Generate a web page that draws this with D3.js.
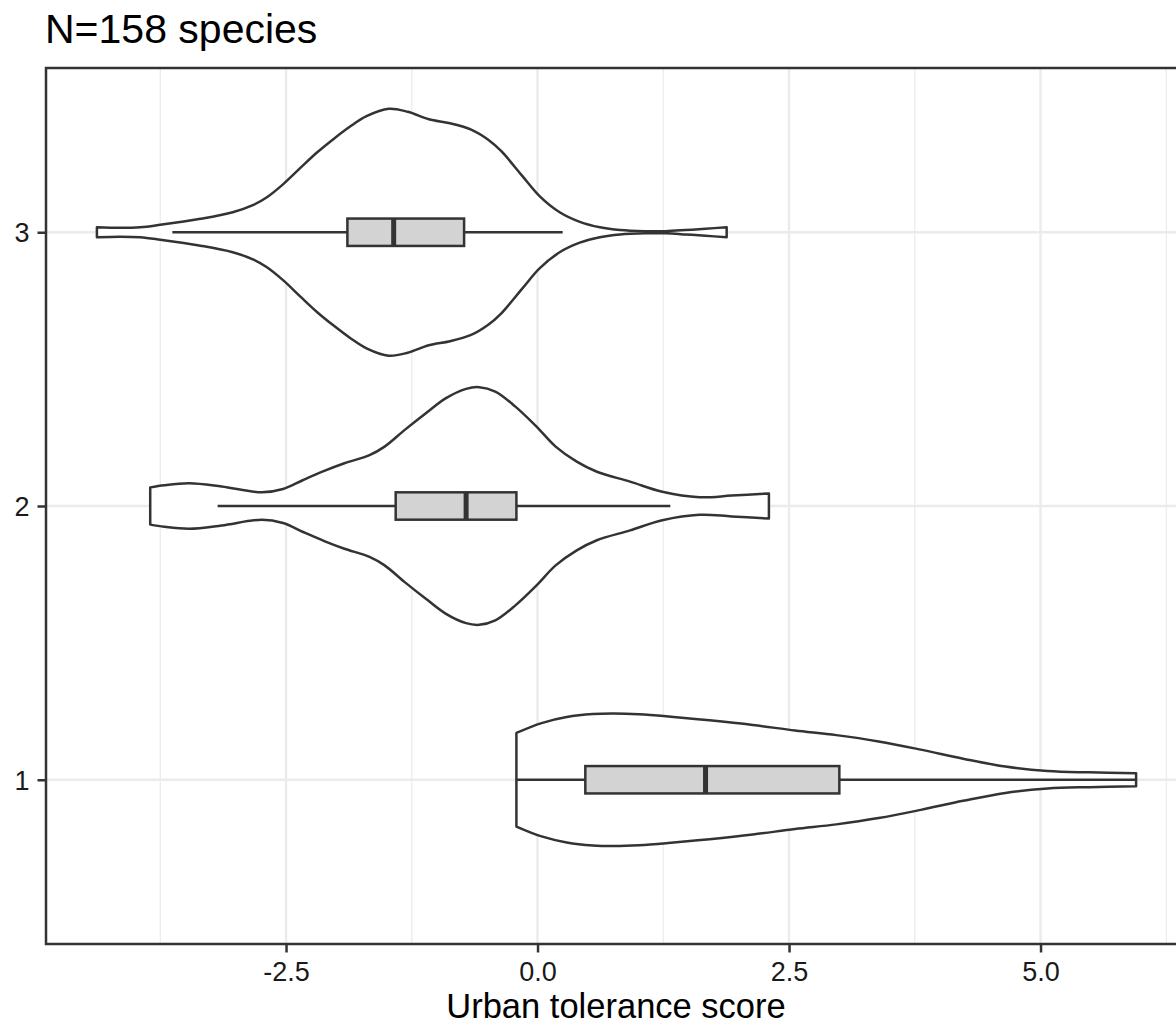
<!DOCTYPE html>
<html>
<head>
<meta charset="utf-8">
<script src="https://cdn.jsdelivr.net/npm/d3@7"></script>
<style>
  html, body { margin: 0; padding: 0; background: #fff; }
  svg { display: block; }
  text { font-family: "Liberation Sans", Arial, sans-serif; }
</style>
</head>
<body>
<svg id="chart" width="1176" height="1026"></svg>
<script>
// ---------------- data ----------------
const categories = [1, 2, 3];
const categoryLabels = ["1", "2", "3"];
const titleText = "N=158 species";
const xAxisTitle = "Urban tolerance score";

const xMajorTicks = [-2.5, 0, 2.5, 5.0];
const xTickLabels = ["-2.5", "0.0", "2.5", "5.0"];
const xMinorTicks = [-3.75, -1.25, 1.25, 3.75, 6.25];
const xLimits = [-4.886, 6.446];
const yLimits = [0.4, 3.6];

// violin outlines: x positions (score) and half-widths (category units)
const group1X = [-0.21, 0.04, 0.29, 0.55, 0.76, 1.01, 1.30, 1.71, 2.14, 2.56, 2.97, 3.39, 3.81, 4.23, 4.65, 5.07, 5.48, 5.95];
const group1W = [0.171, 0.207, 0.229, 0.240, 0.242, 0.239, 0.231, 0.217, 0.200, 0.180, 0.163, 0.140, 0.110, 0.077, 0.048, 0.032, 0.027, 0.024];

const group2X = [-3.85, -3.71, -3.46, -3.14, -2.74, -2.53, -2.33, -2.12, -1.92, -1.67, -1.52, -1.32, -1.11, -0.91, -0.71, -0.58, -0.42, -0.22, -0.01, 0.18, 0.39, 0.59, 0.92, 1.24, 1.61, 1.93, 2.30];
const group2W = [0.068, 0.076, 0.083, 0.071, 0.050, 0.062, 0.095, 0.128, 0.156, 0.186, 0.217, 0.278, 0.339, 0.394, 0.428, 0.434, 0.418, 0.363, 0.290, 0.217, 0.162, 0.125, 0.089, 0.052, 0.032, 0.038, 0.046];

const group3X = [-4.38, -4.15, -3.95, -3.75, -3.35, -3.03, -2.83, -2.69, -2.53, -2.36, -2.19, -2.03, -1.86, -1.70, -1.48, -1.29, -1.08, -0.87, -0.66, -0.49, -0.36, -0.15, 0.02, 0.22, 0.42, 0.62, 0.82, 1.07, 1.27, 1.47, 1.67, 1.88];
const group3W = [0.018, 0.016, 0.018, 0.027, 0.049, 0.073, 0.099, 0.128, 0.175, 0.234, 0.292, 0.340, 0.387, 0.424, 0.451, 0.440, 0.413, 0.398, 0.375, 0.338, 0.296, 0.205, 0.132, 0.073, 0.038, 0.018, 0.008, 0.004, 0.004, 0.008, 0.013, 0.018];

// boxplot statistics per category: lower whisker, Q1, median, Q3, upper whisker
const whiskerLow  = [-0.21, -3.18, -3.63];
const q1Values    = [0.475, -1.41, -1.89];
const medians     = [1.67, -0.71, -1.43];
const q3Values    = [3.00, -0.21, -0.73];
const whiskerHigh = [5.95, 1.32, 0.25];
const boxWidth = 0.1;

// ---------------- layout ----------------
const panel = { left: 46, top: 68, right: 1186, bottom: 944 };
const svg = d3.select("#chart");

const x = d3.scaleLinear().domain(xLimits).range([panel.left, panel.right]);
const y = d3.scaleLinear().domain(yLimits).range([panel.bottom, panel.top]);

const gridCol = "#EBEBEB";
const inkCol = "#333333";
const lw = 2.5;

svg.append("rect").attr("width", 1176).attr("height", 1026).attr("fill", "#fff");

svg.append("defs").append("clipPath").attr("id", "clip")
  .append("rect")
  .attr("x", panel.left).attr("y", panel.top)
  .attr("width", panel.right - panel.left).attr("height", panel.bottom - panel.top);

const plot = svg.append("g").attr("clip-path", "url(#clip)");

// minor grid
plot.selectAll("line.minor").data(xMinorTicks).enter().append("line")
  .attr("x1", d => x(d)).attr("x2", d => x(d))
  .attr("y1", panel.top).attr("y2", panel.bottom)
  .attr("stroke", gridCol).attr("stroke-width", 1.2);

// major grid
plot.selectAll("line.majx").data(xMajorTicks).enter().append("line")
  .attr("x1", d => x(d)).attr("x2", d => x(d))
  .attr("y1", panel.top).attr("y2", panel.bottom)
  .attr("stroke", gridCol).attr("stroke-width", 2.4);
plot.selectAll("line.majy").data(categories).enter().append("line")
  .attr("x1", panel.left).attr("x2", panel.right)
  .attr("y1", d => y(d)).attr("y2", d => y(d))
  .attr("stroke", gridCol).attr("stroke-width", 2.4);

// violins
const groups = [
  { cat: 1, xs: group1X, ws: group1W },
  { cat: 2, xs: group2X, ws: group2W },
  { cat: 3, xs: group3X, ws: group3W }
];

groups.forEach(g => {
  const pts = g.xs.map((v, i) => ({ v: v, w: g.ws[i] }));
  const area = d3.area()
    .x(d => x(d.v))
    .y0(d => y(g.cat - d.w))
    .y1(d => y(g.cat + d.w))
    .curve(d3.curveCatmullRom.alpha(0.5));
  plot.append("path")
    .attr("d", area(pts))
    .attr("fill", "#ffffff")
    .attr("stroke", inkCol)
    .attr("stroke-width", lw)
    .attr("stroke-linejoin", "round");
});

// boxplots
categories.forEach((c, i) => {
  const g = plot.append("g");
  g.append("line")
    .attr("x1", x(whiskerLow[i])).attr("x2", x(q1Values[i]))
    .attr("y1", y(c)).attr("y2", y(c))
    .attr("stroke", inkCol).attr("stroke-width", lw);
  g.append("line")
    .attr("x1", x(q3Values[i])).attr("x2", x(whiskerHigh[i]))
    .attr("y1", y(c)).attr("y2", y(c))
    .attr("stroke", inkCol).attr("stroke-width", lw);
  g.append("rect")
    .attr("x", x(q1Values[i]))
    .attr("y", y(c + boxWidth / 2))
    .attr("width", x(q3Values[i]) - x(q1Values[i]))
    .attr("height", y(c - boxWidth / 2) - y(c + boxWidth / 2))
    .attr("fill", "#D3D3D3")
    .attr("stroke", inkCol).attr("stroke-width", lw);
  g.append("line")
    .attr("x1", x(medians[i])).attr("x2", x(medians[i]))
    .attr("y1", y(c + boxWidth / 2)).attr("y2", y(c - boxWidth / 2))
    .attr("stroke", inkCol).attr("stroke-width", 5);
});

// panel border
svg.append("rect")
  .attr("x", panel.left).attr("y", panel.top)
  .attr("width", panel.right - panel.left).attr("height", panel.bottom - panel.top)
  .attr("fill", "none").attr("stroke", inkCol).attr("stroke-width", lw);

// x axis
const xAxis = d3.axisBottom(x)
  .tickValues(xMajorTicks)
  .tickFormat((d, i) => xTickLabels[i])
  .tickSize(8.5).tickPadding(10);
const gx = svg.append("g").attr("transform", `translate(0,${panel.bottom})`).call(xAxis);
gx.select(".domain").remove();
gx.selectAll(".tick line").attr("stroke", inkCol).attr("stroke-width", lw);
gx.selectAll(".tick text")
  .attr("fill", "#1a1a1a")
  .style("font-size", "27px")
  .style("font-family", "'Liberation Sans', Arial, sans-serif")
  .attr("y", null).attr("dy", null)
  .attr("transform", "translate(0,37)");

// y axis
const yAxis = d3.axisLeft(y)
  .tickValues(categories)
  .tickFormat((d, i) => categoryLabels[i])
  .tickSize(8.5).tickPadding(8);
const gy = svg.append("g").attr("transform", `translate(${panel.left},0)`).call(yAxis);
gy.select(".domain").remove();
gy.selectAll(".tick line").attr("stroke", inkCol).attr("stroke-width", lw);
gy.selectAll(".tick text")
  .attr("fill", "#1a1a1a")
  .style("font-size", "27px")
  .style("font-family", "'Liberation Sans', Arial, sans-serif")
  .attr("dy", "0.36em");

// axis title
svg.append("text")
  .attr("x", (panel.left + panel.right) / 2)
  .attr("y", 1018)
  .attr("text-anchor", "middle")
  .attr("fill", "#000")
  .style("font-size", "34.5px")
  .text(xAxisTitle);

// plot title
svg.append("text")
  .attr("x", 45)
  .attr("y", 43)
  .attr("fill", "#000")
  .style("font-size", "41px")
  .text(titleText);
</script>
</body>
</html>
